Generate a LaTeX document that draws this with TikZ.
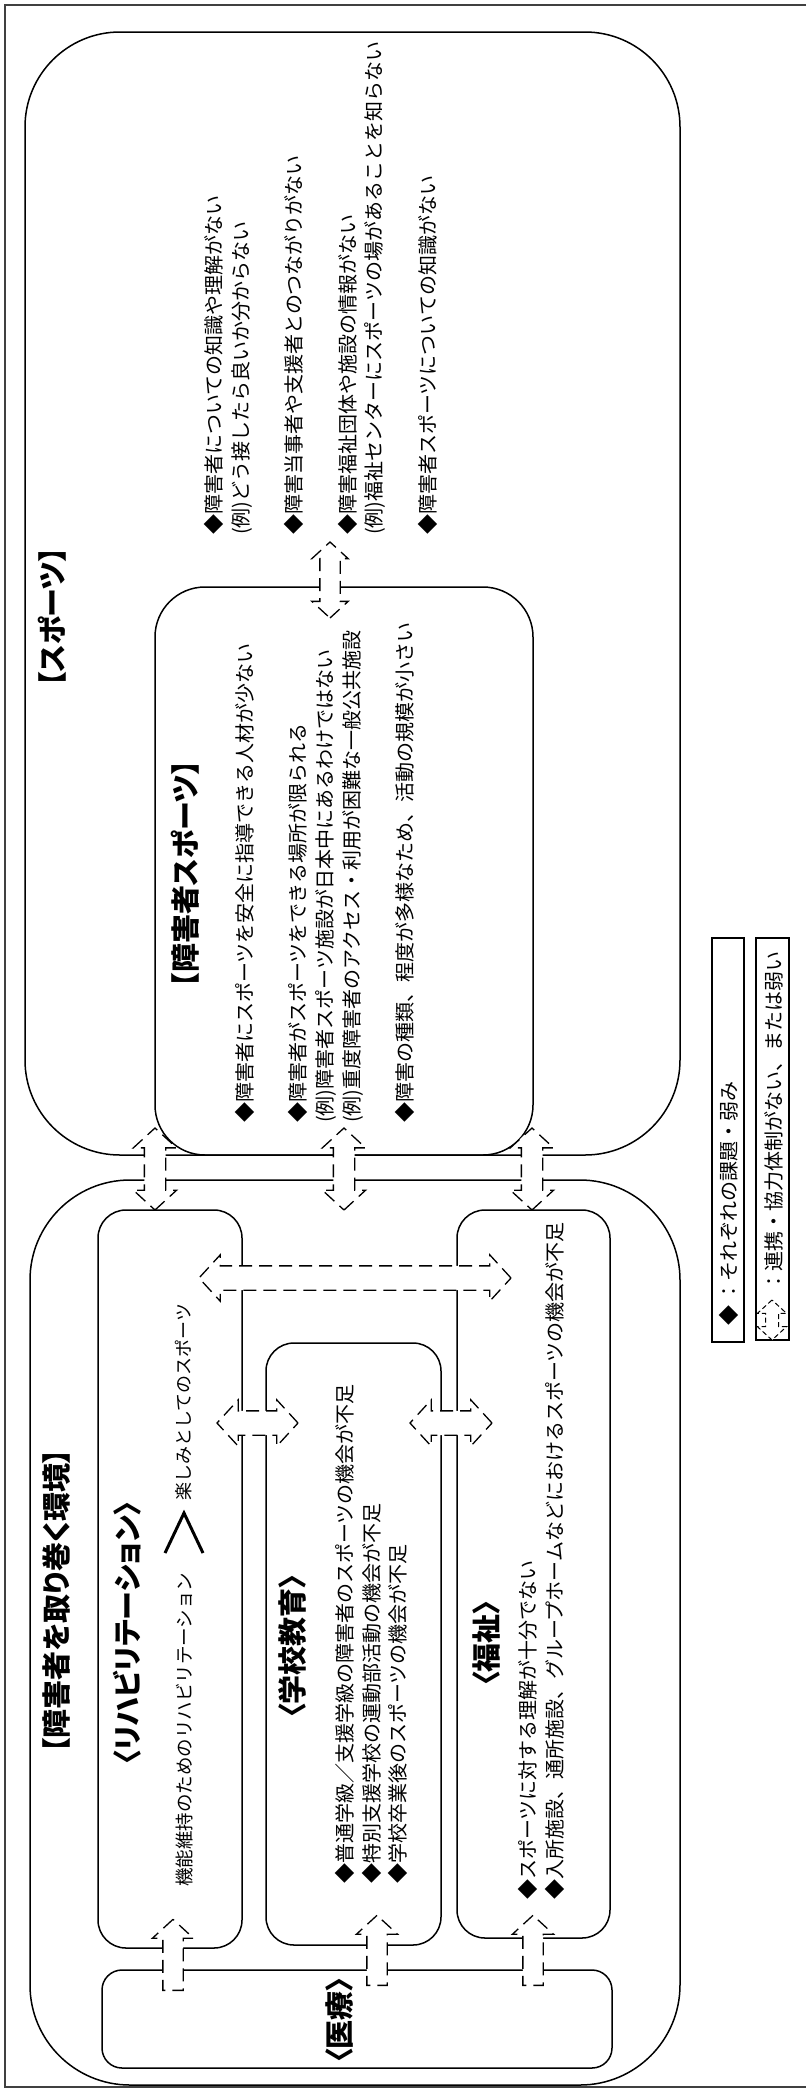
\documentclass[tikz,border=0pt]{standalone}
\usepackage{fontspec}
\setmainfont{Noto Sans CJK JP}
\newfontfamily\jpprop[RawFeature=+palt]{Noto Sans CJK JP}
\usetikzlibrary{positioning,calc,fit,shapes.arrows}

% hollow dashed connector between two named points
\newcommand{\hollowlink}[4][dlink]{%
  \path let \p1=(#3), \p2=(#4),
    \n1={veclen(\x2-\x1,\y2-\y1)}, \n2={atan2(\y2-\y1,\x2-\x1)} in
    node[#1, minimum height=\n1, rotate=\n2] (#2) at ($(#3)!.5!(#4)$) {};%
}

\begin{document}
\begin{tikzpicture}[
  x=1pt, y=-1pt,
  frame/.style={draw=black!75, line width=1.2pt},
  area/.style={draw, line width=1.5pt, inner sep=0pt, rounded corners=#1},
  area/.default=28pt,
  keybox/.style={draw, line width=1.1pt, inner sep=0pt},
  heading/.style={rotate=90, inner sep=0pt, font=\jpprop\bfseries\fontsize{29}{34}\selectfont},
  body/.style={rotate=90, inner sep=0pt, align=left, font=\fontsize{20}{26.7}\selectfont},
  dlink/.style={double arrow, draw, fill=white, line width=1.3pt, dash pattern=on 13pt off 7pt,
                inner xsep=0pt, inner ysep=10pt, double arrow head extend=11pt,
                double arrow tip angle=95},
  slink/.style={single arrow, draw, fill=white, line width=1.3pt, dash pattern=on 13pt off 7pt,
                inner xsep=0pt, inner ysep=9.5pt, single arrow head extend=10.5pt,
                single arrow tip angle=95}
]
\useasboundingbox (0,0) rectangle (806,2091);
\draw[frame] (806,5) -- (5,5) -- (5,2087) -- (806,2087);

% sports side
\node[area=95pt, fit={(25,32) (680,1155)}] (sport) {};
\node[area=50pt, fit={(155,587) (533,1155)}] (para) {};
% environment side
\node[area=100pt, fit={(30,1180) (680,2085)}] (env) {};
\node[area, fit={(98,1210) (242,1948)}] (rehab) {};
\node[area, fit={(266,1343) (441,1945)}] (school) {};
\node[area, fit={(457,1210) (610,1938)}] (welfare) {};
\node[area=20pt, fit={(102,1970) (612,2068)}] (medical) {};

% titles
\node[heading] (sporttitle) at (52,617) {【スポーツ】};
\node[heading] (paratitle) at (185,874) {【障害者スポーツ】};
\node[heading] (envtitle) at (57,1601) {【障害者を取り巻く環境】};
\node[heading] (rehabtitle) at (127,1633) {〈リハビリテーション〉};
\node[heading] (schooltitle) at (292,1646) {〈学校教育〉};
\node[heading] (welfaretitle) at (486,1643) {〈福祉〉};
\node[heading] (medtitle) at (340,2020) {〈医療〉};

% issues
\node[body, anchor=north west] (issues) at (204,535) {%
  ◆障害者についての知識や理解がない\\
  (例)どう接したら良いか分からない\\[26.7pt]
  ◆障害当事者や支援者とのつながりがない\\[26.7pt]
  ◆障害福祉団体や施設の情報がない\\
  (例)福祉センターにスポーツの場があることを知らない\\[26.7pt]
  ◆障害者スポーツについての知識がない};
\node[body, anchor=north west] (parabody) at (235,1123) {%
  ◆障害者にスポーツを安全に指導できる人材が少ない\\[26.7pt]
  ◆障害者がスポーツをできる場所が限られる\\
  (例)障害者スポーツ施設が日本中にあるわけではない\\
  (例)重度障害者のアクセス・利用が困難な一般公共施設\\[26.7pt]
  ◆障害の種類、程度が多様なため、活動の規模が小さい};
\node[body, anchor=west, font=\fontsize{18.5}{24}\selectfont] (rehabA) at (184,1887)
  {機能維持のためのリハビリテーション};
\node[body, anchor=west, font=\fontsize{18}{24}\selectfont] (rehabB) at (184,1501)
  {楽しみとしてのスポーツ};
\coordinate (chevtip) at (184,1513);
\draw[line width=3pt] (165,1553) -- (chevtip) -- (203,1553);
\node[body, anchor=north west] (schoolbody) at (335,1884) {%
  ◆普通学級／支援学級の障害者のスポーツの機会が不足\\
  ◆特別支援学校の運動部活動の機会が不足\\
  ◆学校卒業後のスポーツの機会が不足};
\node[body, anchor=north west] (welfarebody) at (518,1900) {%
  ◆スポーツに対する理解が十分でない\\
  ◆入所施設、通所施設、グループホームなどにおけるスポーツの機会が不足};

% connectors
\coordinate (se1a) at (155,1128); \coordinate (se1b) at (155,1210);
\coordinate (se2a) at (344,1128); \coordinate (se2b) at (344,1210);
\coordinate (se3a) at (532,1128); \coordinate (se3b) at (532,1210);
\coordinate (pia) at (330,542);   \coordinate (pib) at (330,618);
\coordinate (rsa) at (217,1423);  \coordinate (rsb) at (298,1423);
\coordinate (swa) at (410,1423);  \coordinate (swb) at (492,1423);
\coordinate (rwa) at (199,1278);  \coordinate (rwb) at (511,1278);
\coordinate (mr) at (173,1995);   \coordinate (rm) at (173,1924);
\coordinate (ms) at (377,1990);   \coordinate (sm) at (377,1920);
\coordinate (mw) at (533,1990);   \coordinate (wm) at (533,1920);
\hollowlink{link1}{se1a}{se1b}
\hollowlink{link2}{se2a}{se2b}
\hollowlink{link3}{se3a}{se3b}
\hollowlink[dlink, inner ysep=9.5pt, double arrow head extend=8pt]{link4}{pia}{pib}
\hollowlink[dlink, inner ysep=11.5pt]{link5}{rsa}{rsb}
\hollowlink[dlink, inner ysep=11.5pt]{link6}{swa}{swb}
\hollowlink[dlink, inner ysep=11.5pt]{link7}{rwa}{rwb}
\hollowlink[slink]{link8}{mr}{rm}
\hollowlink[slink]{link9}{ms}{sm}
\hollowlink[slink]{link10}{mw}{wm}

% key
\node[keybox, fit={(712,938) (744,1342)}] (key1) {};
\node[keybox, fit={(756,938) (789,1340)}] (key2) {};
\node[body, anchor=west] (keytext1) at (729,1326) {◆ ：それぞれの課題・弱み};
\node[body, anchor=west] (keytext2) at (774,1292) {：連携・協力体制がない、または弱い};
\coordinate (ka) at (772,1340); \coordinate (kb) at (772,1300);
\hollowlink[dlink, line width=1pt, dash pattern=on 5pt off 3pt, inner ysep=6pt,
  double arrow head extend=8pt]{keyarrow}{ka}{kb}
\end{tikzpicture}
\end{document}
